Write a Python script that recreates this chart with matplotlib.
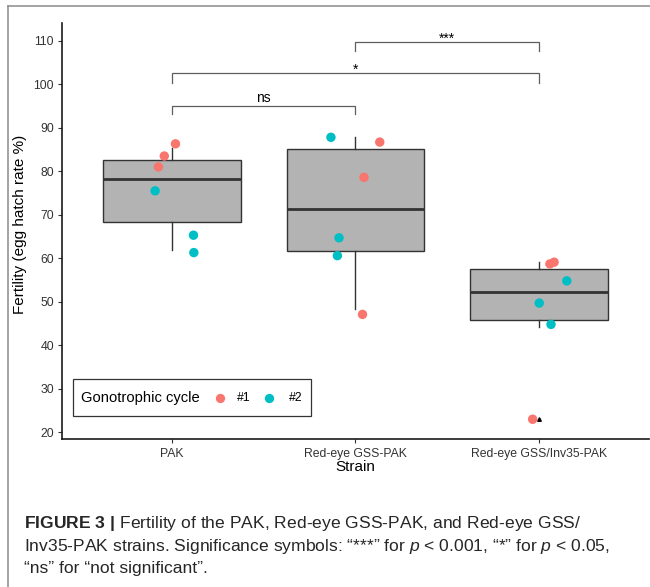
import matplotlib
matplotlib.use("Agg")
import matplotlib.pyplot as plt
from matplotlib.lines import Line2D
from matplotlib.patches import Rectangle

W, H, DPI = 650, 587, 100

plt.rcParams["font.family"] = ["Liberation Sans", "DejaVu Sans"]
plt.rcParams["mathtext.fontset"] = "custom"
plt.rcParams["mathtext.rm"] = "Liberation Sans"
plt.rcParams["mathtext.it"] = "Liberation Sans:italic"
plt.rcParams["mathtext.bf"] = "Liberation Sans:bold"

strains = ["PAK", "Red-eye GSS-PAK", "Red-eye GSS/Inv35-PAK"]

# box summaries per strain
whisker_lo = [61.9, 48.3, 44.3]
q1         = [68.3, 61.7, 45.7]
median     = [78.3, 71.4, 52.3]
q3         = [82.6, 85.1, 57.6]
whisker_hi = [85.3, 87.9, 59.2]
outliers   = [[], [], [23.0]]

# individual replicates (strain index, horizontal jitter, hatch rate, cycle)
pt_strain = [0, 0, 0, 0, 0, 0, 1, 1, 1, 1, 1, 1, 2, 2, 2, 2, 2, 2]
pt_jitter = [0.02, -0.041, -0.073, -0.091, 0.118, 0.12,
             0.133, 0.047, 0.039, -0.133, -0.089, -0.098,
             0.06, 0.083, -0.034, 0.152, 0.002, 0.066]
pt_value  = [86.3, 83.5, 81.0, 75.5, 65.3, 61.3,
             86.7, 78.6, 47.1, 87.8, 64.7, 60.6,
             58.7, 59.1, 23.0, 54.8, 49.7, 44.8]
pt_cycle  = ["#1", "#1", "#1", "#2", "#2", "#2",
             "#1", "#1", "#1", "#2", "#2", "#2",
             "#1", "#1", "#1", "#2", "#2", "#2"]
cycle_colors = {"#1": "#F8766D", "#2": "#00BFC4"}

# pairwise comparisons: (group a, group b, bar height, tip end, label)
comparisons = [
    (1, 2, 95.06, 93.08, "ns"),
    (1, 3, 102.51, 100.35, "*"),
    (2, 3, 109.70, 107.63, "***"),
]


def fx(px):
    return px / W


def fy(py):
    return 1 - py / H


fig = plt.figure(figsize=(W / DPI, H / DPI), dpi=DPI)
fig.patch.set_facecolor("white")

# page frame
fig.add_artist(Line2D([fx(8), fx(8)], [0, fy(6)], transform=fig.transFigure,
                      color="#8a8a8a", lw=1.1))
fig.add_artist(Line2D([fx(8), 1], [fy(6), fy(6)], transform=fig.transFigure,
                      color="#8a8a8a", lw=1.1))

ax = fig.add_axes([fx(61.7), fy(439), fx(649) - fx(61.7), fy(22.7) - fy(439)])

positions = [1, 2, 3]
stats = []
for i, name in enumerate(strains):
    stats.append(dict(label=name, whislo=whisker_lo[i], q1=q1[i], med=median[i],
                      q3=q3[i], whishi=whisker_hi[i], fliers=outliers[i]))

ax.bxp(stats, positions=positions, widths=0.75, patch_artist=True,
       showcaps=False,
       boxprops=dict(facecolor="#b3b3b3", edgecolor="#333333", linewidth=1.0),
       medianprops=dict(color="#333333", linewidth=2.0),
       whiskerprops=dict(color="#333333", linewidth=1.0),
       flierprops=dict(marker="^", markersize=2.6, markerfacecolor="black",
                       markeredgecolor="black"),
       zorder=2)

for cyc, col in cycle_colors.items():
    xs = [positions[s] + j for s, j, c in zip(pt_strain, pt_jitter, pt_cycle) if c == cyc]
    ys = [v for v, c in zip(pt_value, pt_cycle) if c == cyc]
    ax.scatter(xs, ys, s=46, color=col, edgecolors="none", zorder=3)

for a, b, y, tip, label in comparisons:
    ax.plot([a, a, b, b], [tip, y, y, tip], color="#5e5e5e", lw=0.9,
            solid_joinstyle="miter", zorder=2)
    off = 3 if label == "ns" else -0.5
    ax.annotate(label, ((a + b) / 2, y), xytext=(0, off), textcoords="offset points",
                ha="center", va="baseline", fontsize=10, color="black")

ax.set_xlim(0.4, 3.6)
ax.set_ylim(18.46, 114.14)
ax.set_yticks(range(20, 111, 10))
ax.set_xticks(positions)
ax.set_xticklabels(strains)

for side in ["top", "right"]:
    ax.spines[side].set_visible(False)
for side in ["left", "bottom"]:
    ax.spines[side].set_linewidth(1.2)
    ax.spines[side].set_color("#1a1a1a")

ax.tick_params(axis="both", length=2.6, width=0.8, color="#333333",
               labelsize=8.8, labelcolor="#333333")
ax.tick_params(axis="y", pad=3)
ax.tick_params(axis="x", pad=4)

fig.text(fx(20), fy(224), "Fertility (egg hatch rate %)", rotation=90,
         ha="center", va="center", fontsize=11)
fig.text(fx(355.5), fy(467), "Strain", ha="center", va="center", fontsize=11)

# legend box
fig.add_artist(Rectangle((fx(72.7), fy(415.7)), fx(310.7) - fx(72.7),
                         fy(379) - fy(415.7), transform=fig.transFigure,
                         facecolor="white", edgecolor="#333333", lw=0.9, zorder=5))
fig.text(fx(80.7), fy(398.3), "Gonotrophic cycle", ha="left", va="center",
         fontsize=10.6, zorder=6)
for (cyc, col), dot_x, txt_x in zip(cycle_colors.items(), [220, 269.3], [236.7, 288.7]):
    fig.add_artist(Line2D([fx(dot_x)], [fy(398.3)], transform=fig.transFigure,
                          marker="o", markersize=6.7, color=col, lw=0,
                          markeredgewidth=0, zorder=6))
    fig.text(fx(txt_x), fy(398.3), cyc, ha="left", va="center", fontsize=8.8,
             zorder=6)

# caption
cap = [
    r"$\mathbf{FIGURE\ 3\ |}$ Fertility of the PAK, Red-eye GSS-PAK, and Red-eye GSS/",
    "Inv35-PAK strains. Significance symbols: \u201c***\u201d for $p$ < 0.001, "
    "\u201c*\u201d for $p$ < 0.05,",
    "\u201cns\u201d for \u201cnot significant\u201d.",
]
for line, base in zip(cap, [528.3, 550.7, 573.0]):
    fig.text(fx(24.3), fy(base), line, ha="left", va="baseline", fontsize=12.6,
             color="#262626")

fig.savefig("out.png", dpi=DPI)
